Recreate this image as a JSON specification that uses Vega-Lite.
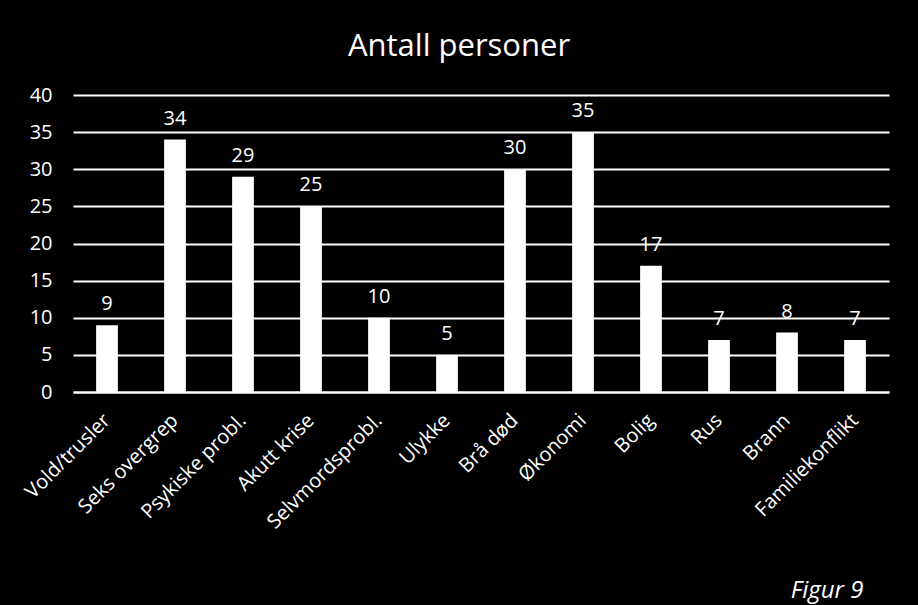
{
  "$schema": "https://vega.github.io/schema/vega-lite/v6.json",
  "width": 816,
  "height": 297,
  "autosize": {"type": "none"},
  "padding": {"left": 73, "top": 95, "right": 29, "bottom": 213},
  "background": "black",
  "title": {
    "text": "Antall personer",
    "color": "white",
    "font": "Open Sans",
    "fontSize": 31,
    "fontWeight": "normal",
    "anchor": "middle",
    "offset": 22,
    "dx": -22
  },
  "data": {
    "values": [
      {"kategori": "Vold/trusler", "antall": 9},
      {"kategori": "Seks overgrep", "antall": 34},
      {"kategori": "Psykiske probl.", "antall": 29},
      {"kategori": "Akutt krise", "antall": 25},
      {"kategori": "Selvmordsprobl.", "antall": 10},
      {"kategori": "Ulykke", "antall": 5},
      {"kategori": "Brå død", "antall": 30},
      {"kategori": "Økonomi", "antall": 35},
      {"kategori": "Bolig", "antall": 17},
      {"kategori": "Rus", "antall": 7},
      {"kategori": "Brann", "antall": 8},
      {"kategori": "Familiekonflikt", "antall": 7}
    ]
  },
  "encoding": {
    "x": {
      "field": "kategori",
      "type": "nominal",
      "sort": null,
      "scale": {"paddingInner": 0.68, "paddingOuter": 0.34},
      "axis": {
        "title": "Figur 9",
        "titleColor": "white",
        "titleFont": "Open Sans",
        "titleFontStyle": "italic",
        "titleFontWeight": "normal",
        "titleFontSize": 24,
        "titleAnchor": "end",
        "titlePadding": 46,
        "titleX": 790,
        "labelAngle": -45,
        "labelAlign": "right",
        "labelBaseline": "middle",
        "labelColor": "white",
        "labelFont": "Open Sans",
        "labelFontSize": 20,
        "labelPadding": 25,
        "labelOverlap": false,
        "ticks": false,
        "domain": true,
        "domainColor": "white",
        "domainWidth": 2
      }
    },
    "y": {
      "field": "antall",
      "type": "quantitative",
      "scale": {"domain": [0, 40], "nice": false},
      "axis": {
        "title": null,
        "values": [0, 5, 10, 15, 20, 25, 30, 35, 40],
        "grid": true,
        "gridColor": "white",
        "gridWidth": 2,
        "gridOpacity": 1,
        "domain": false,
        "ticks": false,
        "labelColor": "white",
        "labelFont": "Open Sans",
        "labelFontSize": 20,
        "labelPadding": 21
      }
    }
  },
  "layer": [
    {"mark": {"type": "bar", "color": "white"}},
    {
      "mark": {
        "type": "text",
        "color": "white",
        "font": "Open Sans",
        "fontSize": 20,
        "baseline": "bottom",
        "dy": -11
      },
      "encoding": {"text": {"field": "antall", "type": "quantitative"}}
    }
  ],
  "config": {"view": {"stroke": null}}
}
